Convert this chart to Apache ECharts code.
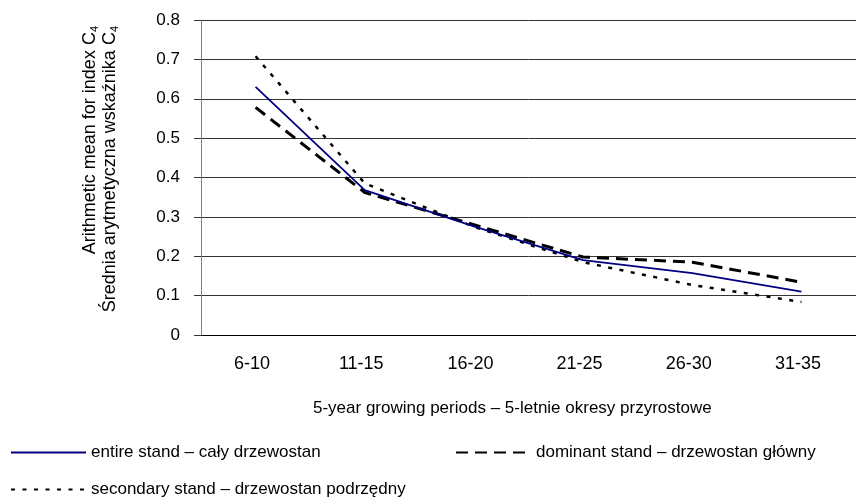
<!DOCTYPE html>
<html>
<head>
<meta charset="utf-8">
<script src="https://cdn.jsdelivr.net/npm/echarts@6/dist/echarts.min.js"></script>
<style>
  html, body { margin: 0; padding: 0; background: #fff; }
  #chart { width: 856px; height: 498px; }
</style>
</head>
<body>
<div id="chart"></div>
<script>
// growing periods and mean C4 values
const categories = ['6-10', '11-15', '16-20', '21-25', '26-30', '31-35'];
const entireStand = [0.63, 0.368, 0.276, 0.19, 0.157, 0.11];
const dominantStand = [0.578, 0.362, 0.28, 0.198, 0.185, 0.134];
const secondaryStand = [0.708, 0.385, 0.275, 0.185, 0.127, 0.084];

const names = {
    entire: 'entire stand – cały drzewostan',
    dominant: 'dominant stand – drzewostan główny',
    secondary: 'secondary stand – drzewostan podrzędny'
};

const FONT = 'Liberation Sans, Arial, sans-serif';
const halfTicks = categories.flatMap(() => ['', '']);

const chart = echarts.init(document.getElementById('chart'));

function legendFor(name, left, top) {
    return {
        data: [name],
        left: left,
        top: top,
        padding: 0,
        itemWidth: 75,
        itemHeight: 14,
        selectedMode: false,
        // hide the circle ECharts puts on a line legend icon
        itemStyle: { opacity: 0, color: 'rgba(0,0,0,0)', borderWidth: 0 },
        textStyle: { color: '#000', fontSize: 17, fontFamily: FONT }
    };
}

chart.setOption({
    animation: false,
    backgroundColor: '#fff',
    grid: { left: 201, top: 20, width: 660, height: 315 },
    legend: [
        legendFor(names.entire, 10, 444),
        legendFor(names.dominant, 455, 444),
        legendFor(names.secondary, 10, 481)
    ],
    xAxis: [{
        type: 'category',
        data: categories,
        boundaryGap: true,
        axisLine: { lineStyle: { color: '#000', width: 1 } },
        axisTick: { show: false },
        axisLabel: { color: '#000', fontSize: 18, fontFamily: FONT, margin: 20, interval: 0, padding: [0, 7, 0, 0] },
        splitLine: { show: false }
    }, {
        // tick marks every half category, outside part
        type: 'category',
        data: halfTicks,
        boundaryGap: true,
        position: 'bottom',
        axisLine: { show: false },
        axisLabel: { show: false, interval: 0 },
        axisTick: { interval: 0, length: 5, lineStyle: { color: '#000' } }
    }, {
        // inside part of the same ticks
        type: 'category',
        data: halfTicks,
        boundaryGap: true,
        position: 'bottom',
        axisLine: { show: false },
        axisLabel: { show: false, interval: 0 },
        axisTick: { interval: 0, inside: true, length: 4, lineStyle: { color: '#000' } }
    }],
    yAxis: {
        type: 'value',
        min: 0,
        max: 0.8,
        interval: 0.1,
        axisLine: { show: true, lineStyle: { color: '#808080' } },
        axisTick: { show: true, length: 7, lineStyle: { color: '#333' } },
        axisLabel: { color: '#000', fontSize: 17, fontFamily: FONT, margin: 21 },
        splitLine: { lineStyle: { color: '#333', width: 1 } }
    },
    graphic: [{
        type: 'text',
        x: 100,
        y: 26,
        rotation: Math.PI / 2,
        style: {
            text: 'Arithmetic mean for index C{s|4}\nŚrednia arytmetyczna wskaźnika C{s|4}',
            font: '18px ' + FONT,
            fill: '#000',
            align: 'right',
            verticalAlign: 'middle',
            lineHeight: 20,
            rich: {
                s: { fontSize: 11, fontFamily: FONT, verticalAlign: 'bottom', lineHeight: 11 }
            }
        }
    }, {
        type: 'text',
        x: 313,
        y: 408,
        style: {
            text: '5-year growing periods – 5-letnie okresy przyrostowe',
            font: '17px ' + FONT,
            fill: '#000',
            align: 'left',
            verticalAlign: 'middle'
        }
    }],
    series: [{
        name: names.dominant,
        type: 'line',
        data: dominantStand,
        symbol: 'none',
        lineStyle: { color: '#000', width: 3, type: [12, 7] },
        itemStyle: { color: '#000' },
        z: 2
    }, {
        name: names.secondary,
        type: 'line',
        data: secondaryStand,
        symbol: 'none',
        lineStyle: { color: '#000', width: 2.5, type: [4, 7.5] },
        itemStyle: { color: '#000' },
        z: 3
    }, {
        name: names.entire,
        type: 'line',
        data: entireStand,
        symbol: 'none',
        lineStyle: { color: '#000080', width: 1.8 },
        itemStyle: { color: '#000080' },
        z: 4
    }]
});

window.addEventListener('resize', function () {
    chart.resize();
});
</script>
</body>
</html>
